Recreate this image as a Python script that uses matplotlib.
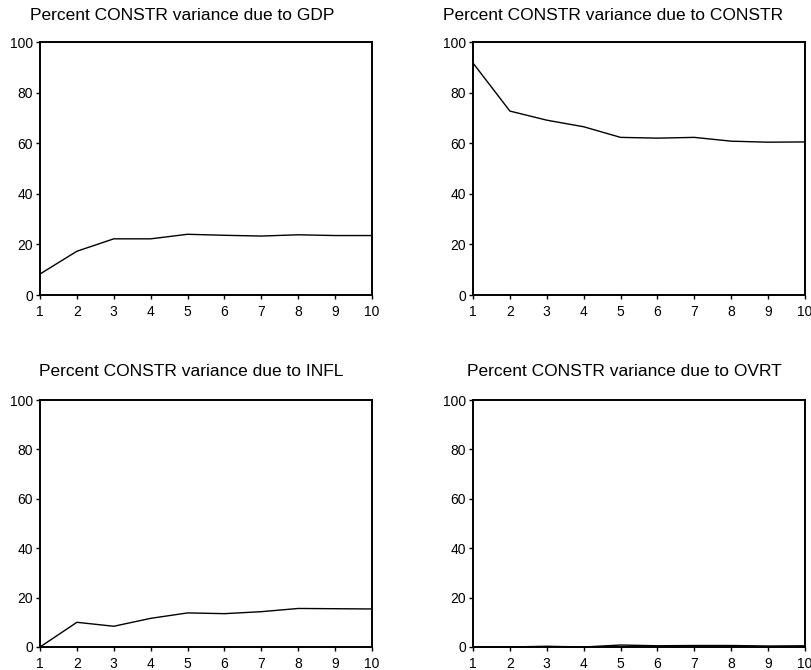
import matplotlib
matplotlib.use("Agg")
import matplotlib.pyplot as plt

plt.rcParams['font.family'] = ['Liberation Sans', 'DejaVu Sans']

periods = [1, 2, 3, 4, 5, 6, 7, 8, 9, 10]
due_to_gdp = [8.3, 17.3, 22.2, 22.2, 24.0, 23.6, 23.3, 23.8, 23.5, 23.5]
due_to_constr = [91.7, 72.7, 69.1, 66.5, 62.3, 62.0, 62.3, 60.8, 60.4, 60.5]
due_to_infl = [0.0, 10.0, 8.4, 11.6, 13.8, 13.5, 14.3, 15.6, 15.5, 15.4]
due_to_ovrt = [0.0, 0.0, 0.3, 0.0, 0.8, 0.5, 0.6, 0.6, 0.4, 0.5]

titles = [
    "Percent CONSTR variance due to GDP",
    "Percent CONSTR variance due to CONSTR",
    "Percent CONSTR variance due to INFL",
    "Percent CONSTR variance due to OVRT",
]
series = [due_to_gdp, due_to_constr, due_to_infl, due_to_ovrt]
y_ticks = [0, 20, 40, 60, 80, 100]

W, H = 812, 670
fig = plt.figure(figsize=(W / 100, H / 100), dpi=100)

# panel boxes in pixels: (left, top, right, bottom), and title centre (x, y)
boxes = [
    (40, 42, 372, 295),
    (473, 42, 805, 295),
    (40, 400, 372, 647),
    (473, 400, 805, 647),
]
title_pos = [(182, 15), (613, 15), (191, 372), (624, 372)]

for box, tpos, title, vals in zip(boxes, title_pos, titles, series):
    l, t, r, b = box
    ax = fig.add_axes([l / W, 1 - b / H, (r - l) / W, (b - t) / H])
    ax.plot(periods, vals, color="black", lw=1.0, clip_on=False)
    ax.set_xlim(1, 10)
    ax.set_ylim(0, 100)
    ax.set_xticks(periods)
    ax.set_yticks(y_ticks)
    ax.tick_params(axis="both", direction="out", length=3, width=1.0,
                   labelsize=10, pad=2, colors="black")
    ax.tick_params(axis="x", pad=4)
    for s in ax.spines.values():
        s.set_linewidth(1.4)
        s.set_color("black")
    fig.text(tpos[0] / W, 1 - tpos[1] / H, title, ha="center", va="center",
             fontsize=12.5, color="black")

fig.savefig("out.png", dpi=100)
